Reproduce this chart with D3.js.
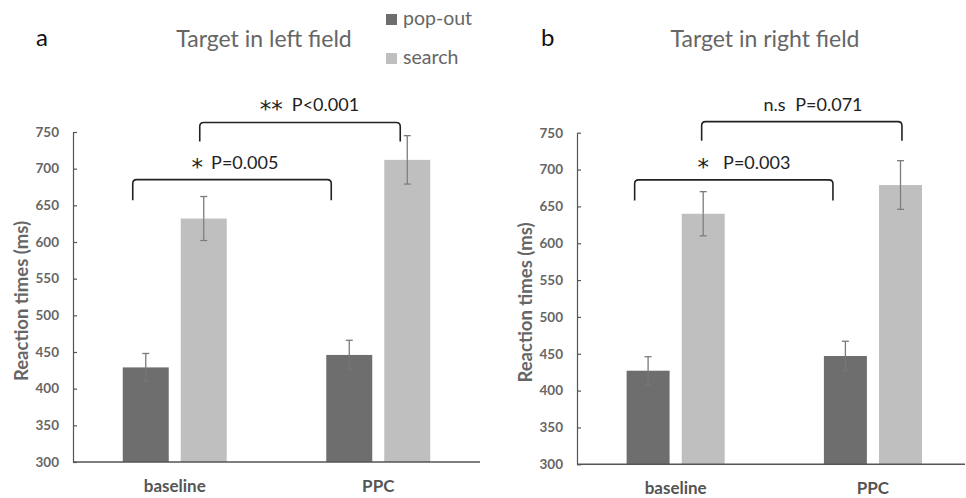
<!DOCTYPE html>
<html>
<head>
<meta charset="utf-8">
<script src="https://cdn.jsdelivr.net/npm/d3@7"></script>
<style>
  body { margin: 0; background: #fff; }
  svg text { font-family: Lato, "Open Sans", sans-serif; }
</style>
</head>
<body>
<svg width="966" height="498"></svg>
<script>
// data
const categories = ["baseline", "PPC"];
const series = ["pop-out", "search"];
const leftPopout = [429, 446];
const leftPopoutErr = [19, 20];
const leftSearch = [632, 712];
const leftSearchErr = [30, 33];
const rightPopout = [427, 447];
const rightPopoutErr = [19, 20];
const rightSearch = [640, 679];
const rightSearchErr = [30, 33];
const yTicks = [300, 350, 400, 450, 500, 550, 600, 650, 700, 750];
const leftStats = [
  { stars: "*", label: "P=0.005", gap: 8, y: 685, yEnd: 657, a: "baseline", b: "PPC", side: "low" },
  { stars: "**", label: "P<0.001", gap: 9, y: 763, yEnd: 737, a: "baseline", b: "PPC", side: "high" }
];
const rightStats = [
  { stars: "*", label: "P=0.003", gap: 14, y: 686, yEnd: 658, a: "baseline", b: "PPC", side: "low" },
  { stars: "n.s", label: "P=0.071", gap: 10, y: 765, yEnd: 739, a: "baseline", b: "PPC", side: "high" }
];

const colors = { "pop-out": "#6e6e6e", "search": "#bfbfbf" };
const svg = d3.select("svg");

function panel(opts) {
  const g = svg.append("g");
  const y = d3.scaleLinear().domain([300, 750]).range([opts.bottom, opts.top]);
  const x = d3.scaleBand().domain(categories).range([opts.left, opts.right]);
  const xs = d3.scaleBand().domain(series).range([0, x.bandwidth()])
      .paddingInner(opts.gap).paddingOuter(opts.outer);

  const rows = [];
  categories.forEach((c, i) => {
    rows.push({ cat: c, s: "pop-out", v: opts.pop[i], e: opts.popErr[i] });
    rows.push({ cat: c, s: "search", v: opts.search[i], e: opts.searchErr[i] });
  });

  g.selectAll("rect.bar").data(rows).enter().append("rect")
    .attr("class", "bar")
    .attr("x", d => x(d.cat) + xs(d.s))
    .attr("width", xs.bandwidth())
    .attr("y", d => y(d.v))
    .attr("height", d => y(300) - y(d.v))
    .attr("fill", d => colors[d.s]);

  // error bars
  const eb = g.selectAll("g.err").data(rows).enter().append("g")
    .attr("transform", d => `translate(${x(d.cat) + xs(d.s) + xs.bandwidth() / 2},0)`);
  eb.append("line")
    .attr("y1", d => y(d.v + d.e)).attr("y2", d => y(d.v))
    .attr("stroke", "#7a7a7a").attr("stroke-width", 1.3);
  eb.append("line")
    .attr("y1", d => y(d.v)).attr("y2", d => y(d.v - d.e))
    .attr("stroke", d => d.s === "pop-out" ? "#777" : "#7a7a7a").attr("stroke-width", 1.2);
  eb.append("line")
    .attr("x1", -3.5).attr("x2", 3.5)
    .attr("y1", d => y(d.v + d.e)).attr("y2", d => y(d.v + d.e))
    .attr("stroke", "#7a7a7a").attr("stroke-width", 1.3);
  eb.append("line")
    .attr("x1", -3.5).attr("x2", 3.5)
    .attr("y1", d => y(d.v - d.e)).attr("y2", d => y(d.v - d.e))
    .attr("stroke", d => d.s === "pop-out" ? "#757575" : "#7a7a7a").attr("stroke-width", 1.2);

  // y axis
  const ya = g.append("g").attr("transform", `translate(${opts.left},0)`)
    .call(d3.axisLeft(y).tickValues(yTicks).tickSizeInner(-4).tickSizeOuter(0).tickPadding(14));
  ya.select(".domain").attr("stroke", "#555").attr("stroke-width", 1.2);
  ya.selectAll(".tick line").attr("stroke", "#555").attr("stroke-width", 1.2);
  ya.selectAll(".tick text").attr("fill", "#666").attr("font-size", 13.5).attr("font-weight", "bold");

  // x axis
  const xa = g.append("g").attr("transform", `translate(0,${opts.bottom})`)
    .call(d3.axisBottom(x).tickSize(0).tickPadding(18));
  xa.select(".domain").attr("stroke", "#555").attr("stroke-width", 1.4)
    .attr("d", `M${opts.left},0H${opts.axisEnd}`);
  xa.selectAll(".tick text").attr("fill", "#555").attr("font-size", 17).attr("font-weight", "bold");

  // y label
  g.append("text")
    .attr("transform", `translate(${opts.labelX},${(opts.top + opts.bottom) / 2 + 4}) rotate(-90)`)
    .attr("text-anchor", "middle")
    .attr("fill", "#666").attr("font-size", 18.5).attr("font-weight", "bold")
    .text("Reaction times (ms)");

  // panel letter and title
  g.append("text").attr("x", opts.letterX).attr("y", 46)
    .attr("font-size", 24).attr("fill", "#111").text(opts.letter);
  g.append("text").attr("x", opts.titleX).attr("y", 47).attr("text-anchor", "middle")
    .attr("font-size", 23).attr("fill", "#666").text(opts.title);

  // significance brackets
  opts.stats.forEach(st => {
    const off = st.side === "low" ? opts.lowOff : opts.highOff;
    const x1 = x(st.a) + x.bandwidth() / 2 + off[0];
    const x2 = x(st.b) + x.bandwidth() / 2 + off[1];
    const yt = y(st.y), yb = y(st.yEnd), r = 4;
    g.append("path")
      .attr("d", `M${x1},${yb}V${yt + r}Q${x1},${yt} ${x1 + r},${yt}H${x2 - r}Q${x2},${yt} ${x2},${yt + r}V${yb}`)
      .attr("fill", "none").attr("stroke", "#222").attr("stroke-width", 1.6);
    const isStar = st.stars.startsWith("*");
    const t = g.append("text").attr("y", yt - 11).attr("fill", "#222");
    const starTxt = t.append("tspan").text(st.stars);
    if (isStar) {
      starTxt.attr("font-family", "DejaVu Sans").attr("font-size", 23).attr("dy", 6).attr("letter-spacing", 0);
    } else {
      starTxt.attr("font-size", 18);
    }
    t.append("tspan").attr("dx", st.gap)
      .attr("dy", isStar ? -6 : 0)
      .attr("font-size", 18).text(st.label);
    const w = t.node().getComputedTextLength();
    t.attr("x", opts.textCx[st.side] - w / 2);
  });
}

panel({
  left: 73, right: 480, axisEnd: 480, top: 132, bottom: 462,
  gap: 0.207, outer: 0.858,
  pop: leftPopout, popErr: leftPopoutErr, search: leftSearch, searchErr: leftSearchErr,
  labelX: 28, letter: "a", letterX: 36, title: "Target in left field", titleX: 264,
  stats: leftStats, lowOff: [-42, -47], highOff: [25, 22], textCx: { low: 231, high: 305 }
});
panel({
  left: 577, right: 971.6, axisEnd: 965, top: 132.7, bottom: 464.3,
  gap: 0.22, outer: 0.9,
  pop: rightPopout, popErr: rightPopoutErr, search: rightSearch, searchErr: rightSearchErr,
  labelX: 532, letter: "b", letterX: 541, title: "Target in right field", titleX: 765,
  stats: rightStats, lowOff: [-41, -40], highOff: [26, 29], textCx: { low: 737, high: 808 }
});

// legend
const lg = svg.append("g");
series.forEach((s, i) => {
  const yy = i === 0 ? 14 : 53;
  lg.append("rect").attr("x", 386).attr("y", yy).attr("width", 11).attr("height", 11).attr("fill", colors[s]);
  lg.append("text").attr("x", 403).attr("y", yy + 11).attr("font-size", 19.5).attr("fill", "#666").text(s);
});
</script>
</body>
</html>
